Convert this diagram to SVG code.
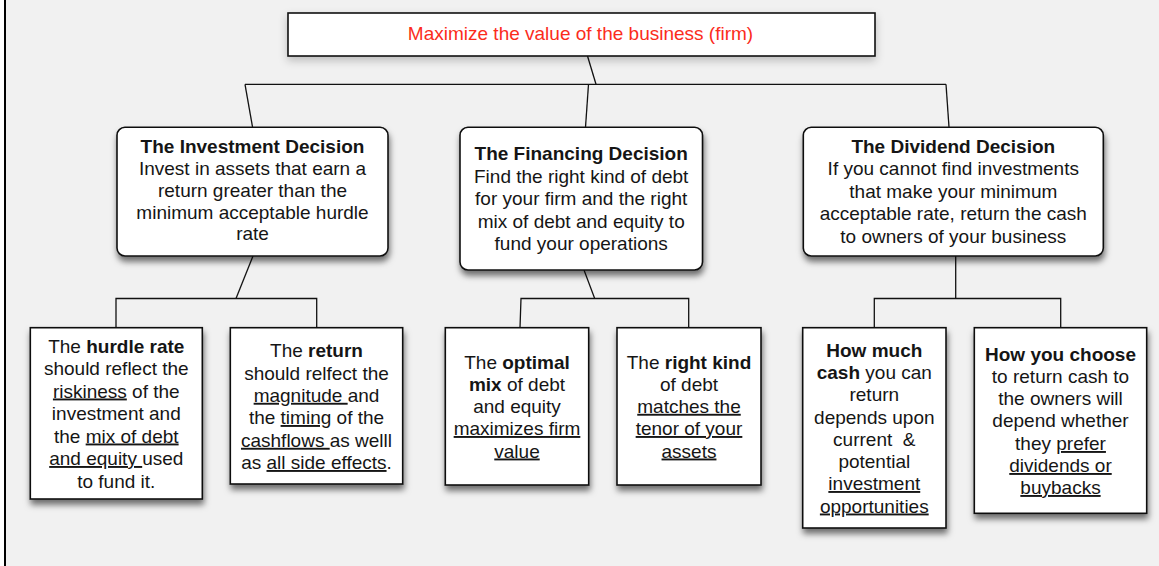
<svg xmlns="http://www.w3.org/2000/svg" width="1159" height="566" viewBox="0 0 1159 566">
<style>
.box{fill:#fff;stroke:#111;stroke-width:1.6}
.t{font-family:"Liberation Sans",Arial,Helvetica,sans-serif;font-size:19px;text-anchor:middle;fill:#151515}
.b{font-weight:bold}
.u{text-decoration:underline}
.c{fill:none;stroke:#111;stroke-width:1.3}
.red{fill:#fb2c1c}
</style>
<defs>
<filter id="sh" x="-10%" y="-10%" width="125%" height="130%">
<feDropShadow dx="1" dy="5" stdDeviation="3" flood-color="#000" flood-opacity="0.55"/>
</filter>
<filter id="shs" x="-10%" y="-30%" width="120%" height="180%">
<feDropShadow dx="0" dy="4" stdDeviation="4" flood-color="#000" flood-opacity="0.22"/>
</filter>
</defs>
<rect x="0" y="0" width="1159" height="566" fill="#f1f1f1"/>
<rect x="0" y="0" width="4" height="566" fill="#fff"/>
<rect x="4" y="0" width="2" height="566" fill="#000"/>

<g id="connectors">
<path class="c" d="M587.5,56 L596,84.3"/>
<path class="c" d="M245,84.3 H946"/>
<path class="c" d="M245,84.3 L252.6,127.3"/>
<path class="c" d="M588.5,84.3 L585.5,127.3"/>
<path class="c" d="M946,84.3 L949,127.3"/>
<path class="c" d="M253,256 L236,298.5"/>
<path class="c" d="M116,327.7 V298.5 H316.7 V327.7"/>
<path class="c" d="M584,270 L594.7,298.5"/>
<path class="c" d="M520,327.7 L521,298.5 H688.7 V327.7"/>
<path class="c" d="M955.7,256 V298.5"/>
<path class="c" d="M874.3,327.7 V298.5 H1060.7 V327.7"/>
</g>

<g id="goal">
<rect class="box" x="288" y="13" width="587" height="43" filter="url(#shs)"/>
<text class="t red" x="580.5" y="40">Maximize the value of the business (firm)</text>
</g>

<g id="investment">
<rect class="box" x="117" y="127.3" width="271" height="128.7" rx="8" filter="url(#sh)"/>
<text class="t" x="252.5" y="153"><tspan class="b">The Investment Decision</tspan><tspan x="252.5" y="175">Invest in assets that earn a</tspan><tspan x="252.5" y="197">return greater than the</tspan><tspan x="252.5" y="219">minimum acceptable hurdle</tspan><tspan x="252.5" y="240">rate</tspan></text>
</g>

<g id="financing">
<rect class="box" x="460" y="127.3" width="242.5" height="142.7" rx="8" filter="url(#sh)"/>
<text class="t" x="581.2" y="160"><tspan class="b">The Financing Decision</tspan><tspan x="581.2" y="182.5">Find the right kind of debt</tspan><tspan x="581.2" y="205">for your firm and the right</tspan><tspan x="581.2" y="227.5">mix of debt and equity to</tspan><tspan x="581.2" y="250">fund your operations</tspan></text>
</g>

<g id="dividend">
<rect class="box" x="803.3" y="127.3" width="300" height="128.7" rx="8" filter="url(#sh)"/>
<text class="t" x="953.3" y="152.8"><tspan class="b">The Dividend Decision</tspan><tspan x="953.3" y="175">If you cannot find investments</tspan><tspan x="953.3" y="197.8">that make your minimum</tspan><tspan x="953.3" y="220">acceptable rate, return the cash</tspan><tspan x="953.3" y="242.5">to owners of your business</tspan></text>
</g>

<g id="hurdle">
<rect class="box" x="30.3" y="327.7" width="172" height="171.3" filter="url(#sh)"/>
<text class="t" x="116.3" y="352.5">The <tspan class="b">hurdle rate</tspan></text>
<text class="t" x="116.3" y="375">should reflect the</text>
<text class="t" x="116.3" y="397.5"><tspan class="u">riskiness</tspan> of the</text>
<text class="t" x="116.3" y="420">investment and</text>
<text class="t" x="116.3" y="442.5">the <tspan class="u">mix of debt</tspan></text>
<text class="t" x="116.3" y="465" xml:space="preserve"><tspan class="u">and equity </tspan>used</text>
<text class="t" x="116.3" y="487.5">to fund it.</text>
</g>

<g id="return">
<rect class="box" x="230.3" y="327.7" width="172.4" height="156.3" filter="url(#sh)"/>
<text class="t" x="316.5" y="356.8">The <tspan class="b">return</tspan></text>
<text class="t" x="316.5" y="379.5">should relfect the</text>
<text class="t" x="316.5" y="401.8" xml:space="preserve"><tspan class="u">magnitude </tspan>and</text>
<text class="t" x="316.5" y="424">the <tspan class="u">timing</tspan> of the</text>
<text class="t" x="316.5" y="446.8" xml:space="preserve"><tspan class="u">cashflows </tspan>as welll</text>
<text class="t" x="316.5" y="469">as <tspan class="u">all side effects</tspan>.</text>
</g>

<g id="optimal-mix">
<rect class="box" x="445.3" y="327.7" width="143.4" height="157.3" filter="url(#sh)"/>
<text class="t" x="517" y="368.5">The <tspan class="b">optimal</tspan></text>
<text class="t" x="517" y="390.8"><tspan class="b">mix</tspan> of debt</text>
<text class="t" x="517" y="412.8">and equity</text>
<text class="t" x="517" y="435"><tspan class="u">maximizes firm</tspan></text>
<text class="t" x="517" y="457.5"><tspan class="u">value</tspan></text>
</g>

<g id="right-kind">
<rect class="box" x="617" y="327.7" width="144" height="157.3" filter="url(#sh)"/>
<text class="t" x="689" y="368.5">The <tspan class="b">right kind</tspan></text>
<text class="t" x="689" y="390.8">of debt</text>
<text class="t" x="689" y="412.8"><tspan class="u">matches the</tspan></text>
<text class="t" x="689" y="435"><tspan class="u">tenor of your</tspan></text>
<text class="t" x="689" y="457.5"><tspan class="u">assets</tspan></text>
</g>

<g id="how-much">
<rect class="box" x="802.7" y="327.7" width="143.3" height="200.3" filter="url(#sh)"/>
<text class="t" x="874.3" y="356.8"><tspan class="b">How much</tspan></text>
<text class="t" x="874.3" y="379"><tspan class="b">cash</tspan> you can</text>
<text class="t" x="874.3" y="401">return</text>
<text class="t" x="874.3" y="423.5">depends upon</text>
<text class="t" x="874.3" y="445.8" xml:space="preserve">current  &amp;</text>
<text class="t" x="874.3" y="467.8">potential</text>
<text class="t" x="874.3" y="490"><tspan class="u">investment</tspan></text>
<text class="t" x="874.3" y="512.5"><tspan class="u">opportunities</tspan></text>
</g>

<g id="how-choose">
<rect class="box" x="974.3" y="327.7" width="172.4" height="185.6" filter="url(#sh)"/>
<text class="t" x="1060.5" y="360.8"><tspan class="b">How you choose</tspan></text>
<text class="t" x="1060.5" y="383">to return cash to</text>
<text class="t" x="1060.5" y="405">the owners will</text>
<text class="t" x="1060.5" y="427">depend whether</text>
<text class="t" x="1060.5" y="450">they <tspan class="u">prefer</tspan></text>
<text class="t" x="1060.5" y="472"><tspan class="u">dividends or</tspan></text>
<text class="t" x="1060.5" y="494"><tspan class="u">buybacks</tspan></text>
</g>
</svg>
